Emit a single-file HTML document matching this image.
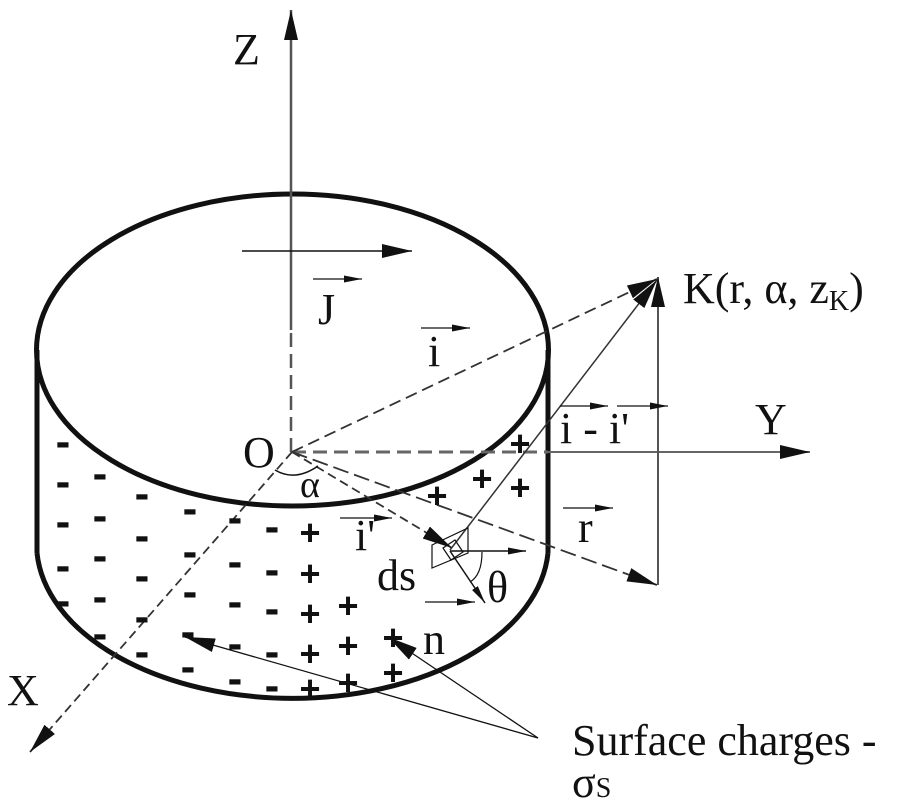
<!DOCTYPE html>
<html><head><meta charset="utf-8"><style>
html,body{margin:0;padding:0;background:#fff;}
svg{display:block;}
text{font-family:"Liberation Serif",serif;fill:#111;}
.m text{font-family:"Liberation Sans",sans-serif;font-size:44px;font-weight:bold;text-anchor:middle;}
.p text{font-family:"Liberation Sans",sans-serif;font-size:36px;font-weight:bold;text-anchor:middle;}
</style></head><body>
<svg width="900" height="800" viewBox="0 0 900 800" xmlns="http://www.w3.org/2000/svg">
<defs>
<marker id="b" viewBox="0 0 10 10" refX="10" refY="5" markerWidth="30" markerHeight="14" markerUnits="userSpaceOnUse" orient="auto" preserveAspectRatio="none"><path d="M0,0 L10,5 L0,10 z" fill="#111"/></marker>
<marker id="s" viewBox="0 0 10 10" refX="10" refY="5" markerWidth="18" markerHeight="7" markerUnits="userSpaceOnUse" orient="auto" preserveAspectRatio="none"><path d="M0,0 L10,5 L0,10 z" fill="#111"/></marker>
</defs>
<g fill="none" stroke="#111">
<ellipse cx="292.5" cy="350" rx="256" ry="156" stroke-width="5"/>
<line x1="37" y1="350" x2="37" y2="553" stroke-width="5"/>
<line x1="548" y1="350" x2="548" y2="553" stroke-width="5"/>
<path d="M37,553 A256,155 0 0 0 548,553" stroke-width="5"/>
<line x1="291" y1="452" x2="291" y2="330" stroke="#555" stroke-width="2.5" stroke-dasharray="14,7"/>
<line x1="291" y1="330" x2="291" y2="10" stroke="#555" stroke-width="2.5" marker-end="url(#b)"/>
<line x1="292" y1="452" x2="548" y2="452" stroke="#666" stroke-width="3" stroke-dasharray="14,7"/>
<line x1="548" y1="452" x2="810" y2="452" stroke="#666" stroke-width="2" marker-end="url(#b)"/>
<line x1="292" y1="452" x2="30" y2="752" stroke="#333" stroke-width="1.8" stroke-dasharray="9,5" marker-end="url(#b)"/>
<line x1="292" y1="452" x2="657" y2="279" stroke="#333" stroke-width="1.8" stroke-dasharray="12,6" marker-end="url(#b)"/>
<line x1="292" y1="452" x2="657" y2="585" stroke="#333" stroke-width="1.8" stroke-dasharray="16,6" marker-end="url(#b)"/>
<line x1="658" y1="585" x2="658" y2="277" stroke="#555" stroke-width="2" marker-end="url(#b)"/>
<line x1="450" y1="550" x2="657" y2="280" stroke="#333" stroke-width="1.5" marker-end="url(#b)"/>
<line x1="292" y1="452" x2="452" y2="548" stroke="#333" stroke-width="1.8" stroke-dasharray="9,5" marker-end="url(#b)"/>
<path d="M275,470 Q295,482 318,466" stroke-width="1.5"/>
<path d="M432,545 L468,528 L468,553 L432,568 Z" stroke-width="1.2"/>
<path d="M443,548 L455,540 L463,552 L451,560 Z" stroke-width="1.2"/>
<line x1="450" y1="551" x2="526" y2="551" stroke-width="1.5" marker-end="url(#s)"/>
<line x1="450" y1="551" x2="485" y2="603" stroke-width="1.5" marker-end="url(#s)"/>
<path d="M470,582 Q482,575 482,552" stroke-width="1.2"/>
<line x1="242" y1="251" x2="412" y2="251" stroke-width="1.5" marker-end="url(#b)"/>
<line x1="313" y1="279" x2="362" y2="279" stroke-width="1.3" marker-end="url(#s)"/>
<line x1="421" y1="328" x2="470" y2="328" stroke-width="1.3" marker-end="url(#s)"/>
<line x1="340" y1="518" x2="392" y2="518" stroke-width="1.3" marker-end="url(#s)"/>
<line x1="425" y1="602" x2="475" y2="602" stroke-width="1.3" marker-end="url(#s)"/>
<line x1="563" y1="508" x2="613" y2="508" stroke-width="1.3" marker-end="url(#s)"/>
<line x1="560" y1="406" x2="608" y2="406" stroke-width="1.3" marker-end="url(#s)"/>
<line x1="617" y1="406" x2="668" y2="406" stroke-width="1.3" marker-end="url(#s)"/>
<line x1="538" y1="738" x2="185" y2="637" stroke-width="1.3" marker-end="url(#b)"/>
<line x1="538" y1="738" x2="388" y2="637" stroke-width="1.3" marker-end="url(#b)"/>
</g>
<g font-size="44" stroke="none">
<text x="233" y="64">Z</text>
<text x="755" y="434">Y</text>
<text x="7" y="705">X</text>
<text x="243" y="467">O</text>
<text x="300" y="497" font-size="38">α</text>
<text x="318" y="324">J</text>
<text x="428" y="366">i</text>
<text x="355" y="550">i'</text>
<text x="377" y="590">ds</text>
<text x="487" y="602">θ</text>
<text x="423" y="654">n</text>
<text x="578" y="542">r</text>
<text x="560" y="443">i - i'</text>
<text x="683" y="303">K(r, α, z<tspan font-size="28" dy="7">K</tspan><tspan dy="-7">)</tspan></text>
<text x="572" y="755">Surface charges -</text>
<text x="572" y="797" font-size="44">σ<tspan font-size="28">S</tspan></text>
</g>
<g class="m">
<text x="63" y="456">-</text><text x="100" y="488">-</text><text x="63" y="496">-</text><text x="142" y="508">-</text><text x="190" y="523">-</text><text x="100" y="530">-</text><text x="63" y="536">-</text><text x="142" y="550">-</text><text x="235" y="532">-</text><text x="272" y="541">-</text><text x="100" y="570">-</text><text x="190" y="566">-</text><text x="63" y="580">-</text><text x="142" y="590">-</text><text x="235" y="576">-</text><text x="272" y="584">-</text><text x="190" y="606">-</text><text x="100" y="611">-</text><text x="63" y="615">-</text><text x="235" y="616">-</text><text x="272" y="623">-</text><text x="142" y="631">-</text><text x="100" y="648">-</text><text x="142" y="666">-</text><text x="188" y="646">-</text><text x="235" y="658">-</text><text x="272" y="666">-</text><text x="188" y="681">-</text><text x="235" y="693">-</text><text x="272" y="700">-</text>
</g>
<g class="p">
<text x="310" y="545">+</text><text x="310" y="586">+</text><text x="310" y="626">+</text><text x="348" y="618">+</text><text x="310" y="666">+</text><text x="348" y="658">+</text><text x="393" y="650">+</text><text x="310" y="701">+</text><text x="348" y="695">+</text><text x="393" y="685">+</text><text x="520" y="456">+</text><text x="482" y="491">+</text><text x="520" y="500">+</text><text x="437" y="508">+</text>
</g>
</svg>
</body></html>
